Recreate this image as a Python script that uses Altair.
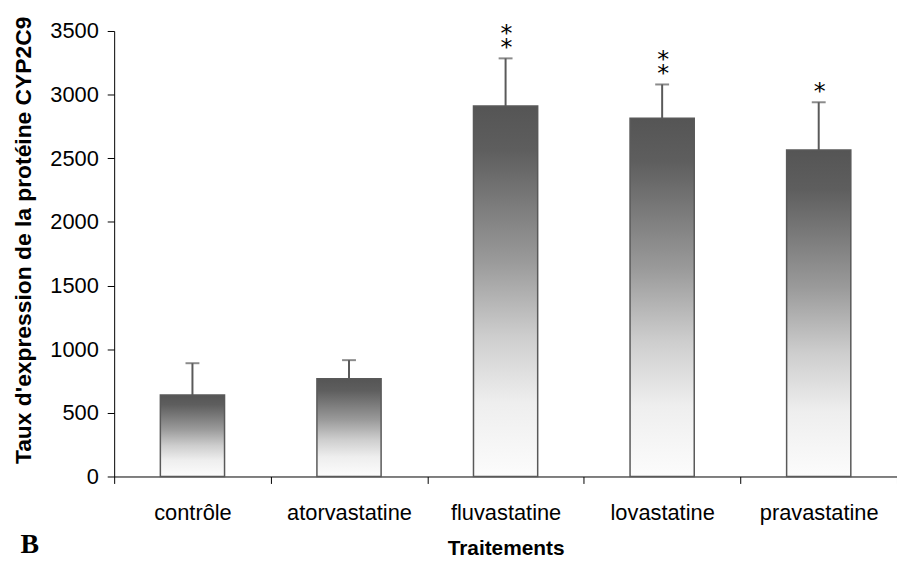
import altair as alt
import pandas as pd

categories = ["contrôle", "atorvastatine", "fluvastatine", "lovastatine", "pravastatine"]
means = [640, 768, 2910, 2815, 2565]
upper = [890, 914, 3285, 3080, 2940]
star_count = [0, 0, 2, 2, 1]
y_ticks = [0, 500, 1000, 1500, 2000, 2500, 3000, 3500]

df = pd.DataFrame({"cat": categories, "mean": means, "upper": upper, "stars": star_count})
one_star = df[df["stars"] == 1]
two_star = df[df["stars"] == 2]

W, H = 789, 449
FONT = "Liberation Sans"

x_enc = alt.X(
    "cat:N",
    sort=categories,
    scale=alt.Scale(paddingInner=0, paddingOuter=0),
    axis=alt.Axis(
        title="Traitements",
        labelAngle=0,
        tickBand="extent",
        labelFont=FONT,
        labelFontSize=22,
        labelColor="#000000",
        labelPadding=19,
        tickSize=7,
        tickColor="#000000",
        domainColor="#000000",
        titleFont=FONT,
        titleFontSize=21,
        titleFontWeight="bold",
        titleColor="#000000",
        titleX=W / 2,
        titleY=73,
        titleBaseline="middle",
        titleAlign="center",
    ),
)

y_scale = alt.Scale(domain=[0, 3500], nice=False, zero=True)
y_axis = alt.Axis(
    title="Taux d'expression de la protéine CYP2C9",
    values=y_ticks,
    format="d",
    grid=False,
    labelFont=FONT,
    labelFontSize=22,
    labelColor="#000000",
    labelPadding=9,
    tickSize=7,
    tickColor="#000000",
    domainColor="#000000",
    titleFont=FONT,
    titleFontSize=23,
    titleFontWeight="bold",
    titleColor="#000000",
    titleAngle=270,
    titleX=-91,
    titleY=H / 2 - 14,
    titleAlign="center",
    titleBaseline="middle",
)

gradient = alt.Gradient(
    gradient="linear",
    stops=[
        alt.GradientStop(color="#555555", offset=0),
        alt.GradientStop(color="#5e5e5e", offset=0.12),
        alt.GradientStop(color="#9a9a9a", offset=0.42),
        alt.GradientStop(color="#cdcdcd", offset=0.62),
        alt.GradientStop(color="#eeeeee", offset=0.8),
        alt.GradientStop(color="#fcfcfc", offset=1),
    ],
    x1=0, x2=0, y1=0, y2=1,
)

base = alt.Chart(df)

bars = base.mark_bar(
    fill=gradient, stroke="#595959", strokeWidth=1.5, width=alt.RelativeBandSize(0.41)
).encode(x=x_enc, y=alt.Y("mean:Q", scale=y_scale, axis=y_axis))

err = base.mark_rule(color="#5a5a5a", strokeWidth=2).encode(
    x=alt.X("cat:N", sort=categories), y="mean:Q", y2="upper:Q"
)

caps = base.mark_tick(color="#5a5a5a", orient="horizontal", size=14, thickness=2).encode(
    x=alt.X("cat:N", sort=categories), y="upper:Q"
)

s1 = alt.Chart(one_star).mark_text(
    text="*", font="DejaVu Sans", fontSize=24, color="#000000", baseline="bottom",
    dy=2, dx=1
).encode(x=alt.X("cat:N", sort=categories), y="upper:Q")

s2 = alt.Chart(two_star).mark_text(
    text=["*", "*"], font="DejaVu Sans", fontSize=24, color="#000000", baseline="bottom",
    lineHeight=15, dy=-13, dx=1
).encode(x=alt.X("cat:N", sort=categories), y="upper:Q")

panel = alt.Chart(pd.DataFrame({"t": ["B"]})).mark_text(
    font="Liberation Serif", fontSize=28, fontWeight="bold", color="#000000",
    baseline="middle", align="center"
).encode(text="t:N", x=alt.value(-85), y=alt.value(518))

chart = alt.layer(bars, err, caps, s1, s2, panel).properties(
    width=W, height=H, autosize="none",
    padding={"left": 107, "top": 21, "right": 0, "bottom": 84},
).configure_view(stroke=None).configure_axisY(domainWidth=1).configure_axisX(domainWidth=1)

chart.save("out.html", embed_options={"renderer": "svg", "actions": False})
